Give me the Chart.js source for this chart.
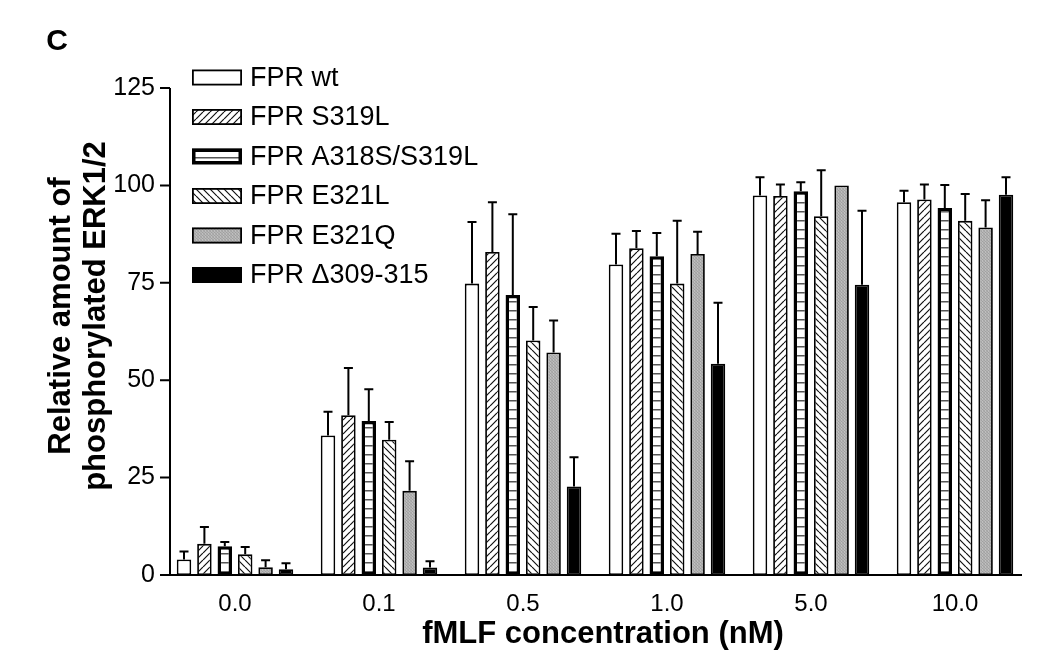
<!DOCTYPE html>
<html><head><meta charset="utf-8">
<script src="https://cdn.jsdelivr.net/npm/chart.js@4.4.0/dist/chart.umd.min.js"></script>
<style>html,body{margin:0;padding:0;background:#fff;}#wrap{width:1050px;height:668px;}</style>
</head><body><div id="wrap"><canvas id="c" width="1050" height="668"></canvas></div>
<script>
const categories = ['0.0', '0.1', '0.5', '1.0', '5.0', '10.0'];
const seriesNames = ['FPR wt', 'FPR S319L', 'FPR A318S/S319L', 'FPR E321L', 'FPR E321Q', 'FPR \u0394309-315'];
const wtValues    = [4.0, 35.8, 74.8, 79.7, 97.4, 95.7];
const wtErrors    = [2.0, 6.1, 15.8, 7.9, 4.7, 2.9];
const s319lValues = [8.0, 41.0, 82.9, 83.9, 97.3, 96.4];
const s319lErrors = [4.3, 12.1, 12.8, 4.4, 2.9, 3.8];
const a318sValues = [7.4, 39.5, 71.9, 81.8, 98.5, 94.2];
const a318sErrors = [1.1, 8.2, 20.7, 6.0, 2.3, 5.9];
const e321lValues = [5.3, 34.7, 60.2, 74.8, 92.1, 90.9];
const e321lErrors = [1.9, 4.6, 8.6, 16.1, 11.8, 6.9];
const e321qValues = [2.0, 21.6, 57.1, 82.4, 100.0, 89.2];
const e321qErrors = [1.8, 7.6, 8.2, 5.7, 0, 7.0];
const deltaValues = [1.5, 1.9, 22.7, 54.2, 74.5, 97.6];
const deltaErrors = [1.5, 1.6, 7.5, 15.7, 19.0, 4.5];
const yTicks = [0, 25, 50, 75, 100, 125];

const allValues = [wtValues, s319lValues, a318sValues, e321lValues, e321qValues, deltaValues];
const allErrors = [wtErrors, s319lErrors, a318sErrors, e321lErrors, e321qErrors, deltaErrors];

function pat(kind) {
  const c = document.createElement('canvas');
  const x = c.getContext('2d');
  if (kind === 'fwd' || kind === 'back') {
    c.width = 7; c.height = 7;
    x.fillStyle = '#fff'; x.fillRect(0, 0, 7, 7);
    x.strokeStyle = '#111'; x.lineWidth = 1.2;
    x.beginPath();
    if (kind === 'fwd') {
      for (let k = -1; k <= 1; k++) { x.moveTo(k * 7, 7); x.lineTo(k * 7 + 7, 0); }
    } else {
      for (let k = -1; k <= 1; k++) { x.moveTo(k * 7, 0); x.lineTo(k * 7 + 7, 7); }
    }
    x.stroke();
  } else if (kind === 'horiz') {
    c.width = 4; c.height = 9;
    x.fillStyle = '#fff'; x.fillRect(0, 0, 4, 9);
    x.fillStyle = '#555'; x.fillRect(0, 4, 4, 1.5);
  } else if (kind === 'gray') {
    c.width = 3; c.height = 3;
    const cols = ['#a4a4a4', '#bcbcbc', '#aeaeae', '#b8b8b8', '#a0a0a0', '#b2b2b2', '#aaaaaa', '#c0c0c0', '#a6a6a6'];
    for (let i = 0; i < 9; i++) { x.fillStyle = cols[i]; x.fillRect(i % 3, Math.floor(i / 3), 1, 1); }
  }
  return x.createPattern(c, 'repeat');
}

const ctx = document.getElementById('c').getContext('2d');
const fills = ['#ffffff', pat('fwd'), pat('horiz'), pat('back'), pat('gray'), '#000000'];
const borderWidths = [1.8, 1.8, 3.5, 1.8, 1.8, 1.8];

const datasets = allValues.map((vals, i) => ({
  label: seriesNames[i],
  data: vals,
  backgroundColor: fills[i],
  borderColor: '#000',
  borderWidth: borderWidths[i],
  borderSkipped: false,
  categoryPercentage: 0.85,
  barPercentage: 0.71
}));

const axesPlugin = {
  id: 'axesDraw',
  afterDatasetsDraw(chart) {
    const c = chart.ctx, ys = chart.scales.y, a = chart.chartArea;
    const ax = a.left + 7;
    const y0 = ys.getPixelForValue(0);
    c.save();
    c.strokeStyle = '#000'; c.lineWidth = 2;
    // error bars
    chart.data.datasets.forEach((ds, i) => {
      const meta = chart.getDatasetMeta(i);
      meta.data.forEach((bar, j) => {
        const e = allErrors[i][j];
        if (!e) return;
        const yt = ys.getPixelForValue(allValues[i][j] + e);
        c.beginPath();
        c.moveTo(bar.x, bar.y); c.lineTo(bar.x, yt);
        c.moveTo(bar.x - 4.5, yt); c.lineTo(bar.x + 4.5, yt);
        c.stroke();
      });
    });
    // axes
    c.beginPath();
    c.moveTo(ax, ys.getPixelForValue(125)); c.lineTo(ax, y0);
    c.moveTo(ax - 10, y0); c.lineTo(a.right - 5, y0);
    yTicks.forEach(t => { const p = ys.getPixelForValue(t); c.moveTo(ax - 10, p); c.lineTo(ax, p); });
    c.stroke();
    // legend
    const lx = 192, ly0 = 77.5, pitch = 39.5;
    c.textBaseline = 'middle'; c.textAlign = 'left';
    c.font = '27px "Liberation Sans", Arial, sans-serif';
    chart.data.datasets.forEach((ds, i) => {
      const cy = ly0 + i * pitch;
      const bw = borderWidths[i];
      c.fillStyle = ds.backgroundColor;
      c.fillRect(lx, cy - 8, 50, 16);
      c.lineWidth = bw;
      c.strokeStyle = '#000';
      c.strokeRect(lx + bw / 2, cy - 8 + bw / 2, 50 - bw, 16 - bw);
      c.fillStyle = '#000';
      c.fillText(ds.label, 250, cy + 1);
    });
    // titles
    c.fillStyle = '#000';
    c.font = 'bold 30px "Liberation Sans", Arial, sans-serif';
    c.textAlign = 'center';
    c.fillText('C', 57, 42);
    c.font = 'bold 31px "Liberation Sans", Arial, sans-serif';
    c.fillText('fMLF concentration (nM)', 603, 634);
    c.save();
    c.translate(61, 316); c.rotate(-Math.PI / 2);
    c.fillText('Relative amount of', 0, 0);
    c.fillText('phosphorylated ERK1/2', 0, 35);
    c.restore();
    c.restore();
  }
};

new Chart(ctx, {
  type: 'bar',
  data: { labels: categories, datasets },
  plugins: [axesPlugin],
  options: {
    responsive: false,
    animation: false,
    layout: { padding: { top: 88, right: 23, left: 0, bottom: 0 } },
    plugins: { legend: { display: false }, tooltip: { enabled: false } },
    scales: {
      x: {
        type: 'category', offset: true,
        grid: { display: false, drawTicks: false },
        border: { display: false },
        ticks: { color: '#000', font: { size: 24, family: '"Liberation Sans", Arial, sans-serif' }, padding: 15, maxRotation: 0 },
        afterFit(s) { s.height = 93; }
      },
      y: {
        min: 0, max: 125,
        grid: { display: false, drawTicks: false },
        border: { display: false },
        ticks: { stepSize: 25, color: '#000', font: { size: 25, family: '"Liberation Sans", Arial, sans-serif' }, padding: 8 },
        afterFit(s) { s.width = 163; }
      }
    }
  }
});
</script></body></html>
